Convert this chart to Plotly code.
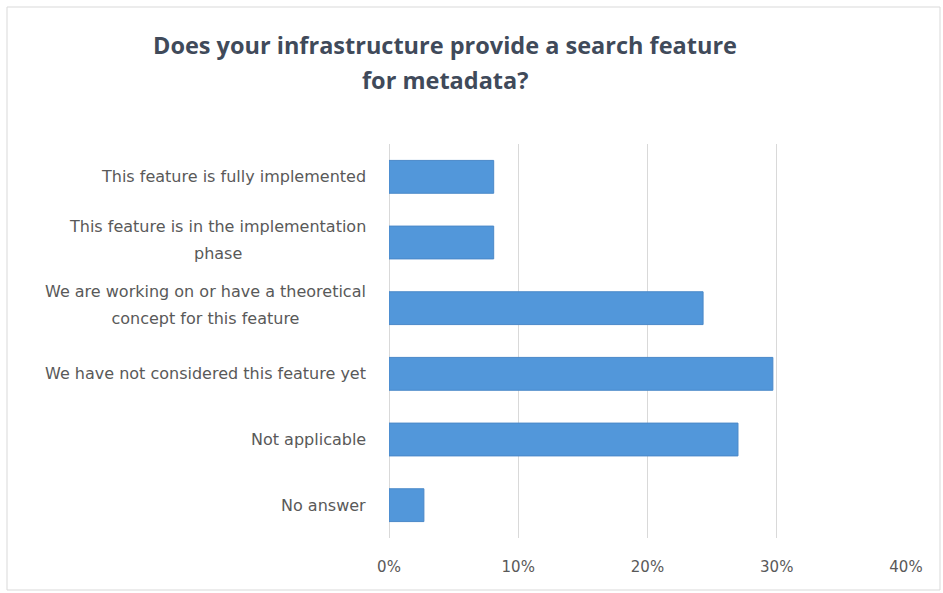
import plotly.graph_objects as go

# Survey responses (share of respondents)
categories = [
    "This feature is fully implemented",
    "This feature is in the implementation<br>phase",
    "We are working on or have a theoretical<br>concept for this feature",
    "We have not considered this feature yet",
    "Not applicable",
    "No answer",
]
shares = [0.081, 0.081, 0.243, 0.297, 0.270, 0.027]
tick_values = [0, 0.1, 0.2, 0.3, 0.4]
tick_labels = ["0%", "10%", "20%", "30%", "40%"]
title_lines = ["Does your infrastructure provide a search feature", "for metadata?"]

W, H = 943, 593
L, R, T, B = 389, 37, 144, 55
pw, ph = W - L - R, H - T - B


def px_x(x):
    return (x - L) / pw


def px_y(y):
    return (H - B - y) / ph


fig = go.Figure(
    go.Bar(
        x=shares,
        y=categories,
        orientation="h",
        marker=dict(color="#5297da", line=dict(color="#4a88c8", width=1)),
        hoverinfo="x+y",
    )
)

label_size = 16
label_font = dict(family="DejaVu Sans, sans-serif", size=label_size, color="#595959")
line_gap = 27  # px between wrapped label lines

# Category labels. Wrapped labels use a larger base font (which sets the line
# pitch) while each line's glyphs are drawn at the normal label size.
for cat in categories:
    lines = cat.split("<br>")
    if len(lines) == 1:
        fig.add_annotation(
            x=px_x(368), xref="paper", y=cat, yref="y",
            text=cat, showarrow=False, xanchor="right", yanchor="middle",
            font=label_font,
        )
    else:
        text = "<br>".join(
            f"<span style='font-size:{label_size}px'>{ln}</span>" for ln in lines
        )
        fig.add_annotation(
            x=px_x(368), xref="paper", y=cat, yref="y", yshift=3,
            text=text, showarrow=False, xanchor="right", yanchor="middle",
            align="center", font=dict(label_font, size=line_gap / 1.3),
        )

# Two-line chart title
title_font = dict(family="Open Sans, sans-serif", size=23.5, color="#404a5a", weight="bold")
for ln, yc in zip(title_lines, [45, 80]):
    fig.add_annotation(
        x=px_x(445), xref="paper", y=px_y(yc), yref="paper",
        text=ln, showarrow=False, xanchor="center", yanchor="middle",
        font=title_font,
    )

# Outer chart border
fig.add_shape(
    type="rect", xref="paper", yref="paper",
    x0=px_x(7), x1=px_x(940), y0=px_y(590), y1=px_y(7),
    line=dict(color="#d9d9d9", width=1), fillcolor="rgba(0,0,0,0)", layer="below",
)

fig.update_layout(
    width=W, height=H,
    margin=dict(l=L, r=R, t=T, b=B),
    paper_bgcolor="white", plot_bgcolor="white",
    bargap=0.5,
    showlegend=False,
    xaxis=dict(
        range=[0, 0.4],
        tickvals=tick_values, ticktext=tick_labels,
        showgrid=True, gridcolor="#d9d9d9", gridwidth=1,
        zeroline=True, zerolinecolor="#d9d9d9", zerolinewidth=1,
        showline=False, ticks="",
        tickfont=dict(label_font, size=15), ticklabelstandoff=18,
    ),
    yaxis=dict(
        categoryorder="array", categoryarray=categories[::-1],
        showticklabels=False, showgrid=False, zeroline=False, showline=False,
    ),
)

fig.write_html("out.html")
